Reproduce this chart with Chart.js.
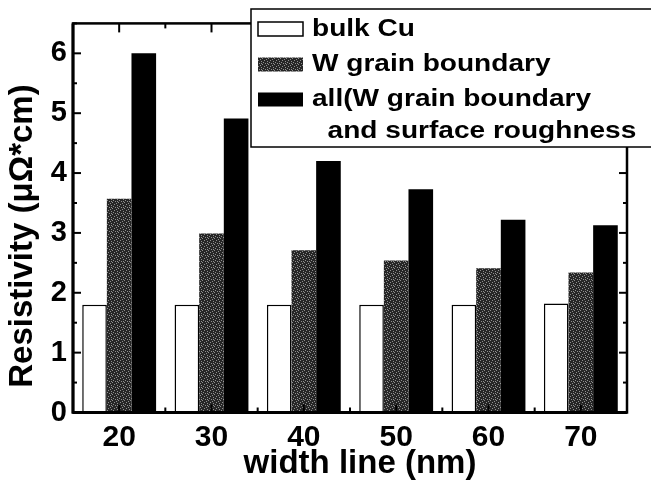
<!DOCTYPE html>
<html><head><meta charset="utf-8">
<script src="https://cdn.jsdelivr.net/npm/chart.js@4/dist/chart.umd.min.js"></script>
<style>html,body{margin:0;padding:0;background:#fff;}#wrap{width:651px;height:486px;}</style>
</head><body><div id="wrap"><canvas id="c" width="651" height="486"></canvas></div>
<script>
// ---- data ----
const categories = ['20', '30', '40', '50', '60', '70'];
const bulkCu = [1.80, 1.80, 1.80, 1.80, 1.80, 1.82];
const wGrain = [3.57, 2.99, 2.71, 2.54, 2.41, 2.34];
const allEffects = [6.00, 4.91, 4.20, 3.73, 3.22, 3.13];
const seriesLabels = ['bulk Cu', 'W grain boundary', 'all(W grain boundary\n  and surface roughness'];
const xTitle = 'width line (nm)';
const yTitle = 'Resistivity (\u03bc\u03a9*cm)';
const yMin = 0, yMax = 6.5, yStep = 1, yMinor = 0.5;

const ARIAL = "'Liberation Sans', Arial, sans-serif";

function stipple() {
  const c = document.createElement('canvas');
  c.width = 6; c.height = 6;
  const g = c.getContext('2d');
  g.fillStyle = '#262626'; g.fillRect(0, 0, 6, 6);
  g.fillStyle = '#8f8f8f';
  [[0,0],[3,1],[1,3],[4,4],[5,2],[2,5],[3,3]].forEach(p => g.fillRect(p[0], p[1], 1, 1));
  return g.createPattern(c, 'repeat');
}
const stip = stipple();

function seg(ctx, x1, y1, x2, y2) { ctx.beginPath(); ctx.moveTo(x1, y1); ctx.lineTo(x2, y2); ctx.stroke(); }

const decor = {
  id: 'decor',
  afterDatasetsDraw(chart) {
    const { ctx, chartArea: a, scales: { x, y } } = chart;
    ctx.save();
    ctx.strokeStyle = '#000';
    ctx.lineWidth = 2;
    for (let v = yMin; v <= yMax + 1e-9; v += yMinor) {
      const py = y.getPixelForValue(v);
      const len = Math.abs(v % yStep) < 1e-9 ? 8 : 4;
      seg(ctx, a.left, py, a.left + len, py);
      seg(ctx, a.right, py, a.right - len, py);
    }
    categories.forEach((c, i) => {
      const px = x.getPixelForValue(i);
      seg(ctx, px, a.top, px, a.top + 9);
      seg(ctx, px, a.bottom, px, a.bottom - 8);
      if (i > 0) {
        const pb = (x.getPixelForValue(i - 1) + px) / 2;
        seg(ctx, pb, a.top, pb, a.top + 5);
        seg(ctx, pb, a.bottom, pb, a.bottom - 5);
      }
    });
    ctx.lineWidth = 2.5;
    ctx.strokeRect(a.left, a.top, a.right - a.left, a.bottom - a.top);
    ctx.lineWidth = 3;
    seg(ctx, a.left, a.top, a.left, a.bottom + 1);
    seg(ctx, a.left, a.bottom, a.right, a.bottom);
    ctx.restore();
  },
  afterDraw(chart) {
    const { ctx } = chart;
    ctx.save();
    // legend box
    const lx = 251, ly = 9, lw = 410, lh = 138;
    ctx.fillStyle = '#fff';
    ctx.fillRect(lx, ly, lw, lh);
    ctx.strokeStyle = '#000'; ctx.lineWidth = 1.5;
    ctx.strokeRect(lx, ly, lw, lh);
    const rows = [29, 64.5, 99.5];
    ctx.font = 'bold 23px ' + ARIAL;
    ctx.textBaseline = 'alphabetic'; ctx.textAlign = 'left';
    chart.data.datasets.forEach((ds, i) => {
      const cy = rows[i];
      ctx.fillStyle = ds.backgroundColor;
      ctx.fillRect(258, cy - 7, 45, 14);
      if (ds.borderWidth) { ctx.lineWidth = 1.5; ctx.strokeStyle = '#000'; ctx.strokeRect(258, cy - 7, 45, 14); }
      const lines = ds.label.split('\n');
      ctx.fillStyle = '#000';
      lines.forEach((t, k) => {
        ctx.save();
        ctx.translate(312, cy + 6.5 + k * 31.5);
        ctx.scale(1.22, 1);
        ctx.fillText(t, 0, 0);
        ctx.restore();
      });
    });
    // axis titles
    ctx.fillStyle = '#000';
    ctx.font = 'bold 33px ' + ARIAL;
    ctx.textAlign = 'center'; ctx.textBaseline = 'alphabetic';
    ctx.fillText(xTitle, 360, 473);
    ctx.translate(32, 236);
    ctx.rotate(-Math.PI / 2);
    ctx.fillText(yTitle, 0, 0);
    ctx.restore();
  }
};

new Chart(document.getElementById('c'), {
  type: 'bar',
  data: {
    labels: categories,
    datasets: [
      { label: seriesLabels[0], data: bulkCu, backgroundColor: '#ffffff', borderColor: '#000', borderWidth: 1.5 },
      { label: seriesLabels[1], data: wGrain, backgroundColor: stip, borderWidth: 0 },
      { label: seriesLabels[2], data: allEffects, backgroundColor: '#000000', borderWidth: 0 }
    ]
  },
  options: {
    responsive: false,
    animation: false,
    devicePixelRatio: 1,
    layout: { padding: { top: 14, right: 24, left: 0, bottom: 0 } },
    plugins: { legend: { display: false }, tooltip: { enabled: false } },
    datasets: { bar: { categoryPercentage: 0.8, barPercentage: 1.0 } },
    scales: {
      x: {
        type: 'category', offset: true,
        grid: { display: false, drawTicks: false }, border: { display: false },
        ticks: { color: '#000', padding: 7, font: { family: ARIAL, weight: 'bold', size: 30 } },
        afterFit(s) { s.height = 73.5; }
      },
      y: {
        min: yMin, max: yMax,
        grid: { display: false, drawTicks: false }, border: { display: false },
        ticks: { stepSize: yStep, includeBounds: false, color: '#000', padding: 6, font: { family: ARIAL, weight: 'bold', size: 29 } },
        afterFit(s) { s.width = 73; }
      }
    }
  },
  plugins: [decor]
});
</script>
</body></html>
